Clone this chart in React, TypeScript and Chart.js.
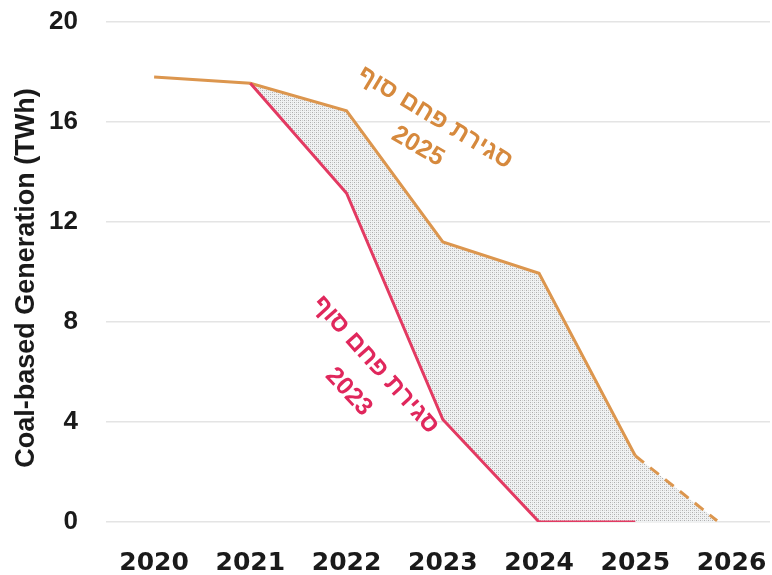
import React, { useEffect, useRef } from 'react';
import { Chart, registerables } from 'chart.js';

Chart.register(...registerables);

// ---- data ----
const years = [2020, 2021, 2022, 2023, 2024, 2025];
const closure2025 = [17.8, 17.55, 16.45, 11.2, 9.95, 2.65];
const closure2025ProjectedYear = 2025.85;
const closure2025ProjectedValue = 0.05;
const closure2023: (number | null)[] = [null, 17.55, 13.15, 4.1, 0, 0];
const xTickLabels = [2020, 2021, 2022, 2023, 2024, 2025, 2026];
const yTickValues = [0, 4, 8, 12, 16, 20];
const yAxisTitle = 'Coal-based Generation (TWh)';
const labelClosure = 'סגירת פחם סוף';
const labelYear2025 = '2025';
const labelYear2023 = '2023';

const ORANGE = '#DC964E';
const ORANGE_TEXT = '#D6893D';
const RED = '#E33A62';
const RED_TEXT = '#E0275C';

const annotations = [
  { text: labelClosure, x: 2022.92, y: 16.16, angle: 31, color: ORANGE_TEXT },
  { text: labelYear2025, x: 2022.74, y: 15.02, angle: 30, color: ORANGE_TEXT },
  { text: labelClosure, x: 2022.3, y: 6.28, angle: 48, color: RED_TEXT },
  { text: labelYear2023, x: 2022.02, y: 5.2, angle: 47, color: RED_TEXT },
];

const zeroPadding = (scale: any) => {
  scale.paddingTop = 0;
  scale.paddingBottom = 0;
  scale.paddingLeft = 0;
  scale.paddingRight = 0;
};

const annotationPlugin = {
  id: 'hebrewAnnotations',
  afterDatasetsDraw(chart: any) {
    const { ctx, scales } = chart;
    annotations.forEach((a) => {
      const px = scales.x.getPixelForValue(a.x);
      const py = scales.y.getPixelForValue(a.y);
      ctx.save();
      ctx.translate(px, py);
      ctx.rotate((a.angle * Math.PI) / 180);
      ctx.font = 'bold 25px "Liberation Sans", "DejaVu Sans", sans-serif';
      ctx.fillStyle = a.color;
      ctx.textAlign = 'center';
      ctx.textBaseline = 'middle';
      ctx.fillText(a.text, 0, 0);
      ctx.restore();
    });
    // y-axis title
    ctx.save();
    ctx.translate(27, (chart.chartArea.top + chart.chartArea.bottom) / 2 + 6);
    ctx.rotate(-Math.PI / 2);
    ctx.font = 'bold 27px "Liberation Sans", Arial, sans-serif';
    ctx.fillStyle = '#1a1a1a';
    ctx.textAlign = 'center';
    ctx.textBaseline = 'middle';
    ctx.fillText(yAxisTitle, 0, 0);
    ctx.restore();
  },
};

export default function App() {
  const canvasRef = useRef<HTMLCanvasElement | null>(null);

  useEffect(() => {
    document.body.style.margin = '0';
    const canvas = canvasRef.current;
    if (!canvas) return;
    const ctx = canvas.getContext('2d')!;

    const pc = document.createElement('canvas');
    pc.width = 4;
    pc.height = 4;
    const p = pc.getContext('2d')!;
    p.fillStyle = '#f0f2f3';
    p.fillRect(0, 0, 4, 4);
    p.fillStyle = '#aeaeae';
    p.fillRect(0, 0, 1, 1);
    p.fillRect(2, 2, 1, 1);
    p.fillStyle = '#d0d0d0';
    p.fillRect(2, 0, 1, 1);
    p.fillRect(0, 2, 1, 1);
    const pattern = ctx.createPattern(pc, 'repeat');

    const redData = years
      .map((x, i) => ({ x, y: closure2023[i] }))
      .filter((pt) => pt.y !== null);
    const orangeData = [
      ...years.map((x, i) => ({ x, y: closure2025[i] })),
      { x: closure2025ProjectedYear, y: closure2025ProjectedValue },
    ];
    const lowerData = [
      ...years.map((x, i) => ({ x, y: closure2023[i] ?? closure2025[i] })),
      { x: closure2025ProjectedYear, y: 0 },
    ];
    const lastSolid = years.length - 1;

    const chart = new Chart(ctx, {
      type: 'line',
      data: {
        datasets: [
          {
            label: 'closure 2023',
            data: redData,
            borderColor: RED,
            borderWidth: 3,
            pointRadius: 0,
            tension: 0,
            fill: false,
          },
          {
            label: 'closure 2025',
            data: orangeData,
            borderColor: ORANGE,
            borderWidth: 3,
            pointRadius: 0,
            tension: 0,
            fill: { target: 2 },
            backgroundColor: pattern as any,
            segment: {
              borderDash: (c: any) => (c.p0DataIndex >= lastSolid ? [11, 8] : undefined),
            },
          },
          {
            label: 'lower',
            data: lowerData,
            borderWidth: 0,
            borderColor: 'rgba(0,0,0,0)',
            pointRadius: 0,
            tension: 0,
            fill: false,
          },
        ],
      },
      options: {
        animation: false,
        responsive: true,
        maintainAspectRatio: false,
        layout: { padding: { top: 22, right: 2, left: 0, bottom: 0 } },
        plugins: {
          legend: { display: false },
          tooltip: { enabled: false },
        },
        scales: {
          x: {
            type: 'linear',
            min: 2019.5,
            max: 2026.4,
            grid: { display: false },
            border: { display: false },
            afterBuildTicks: (scale: any) => {
              scale.ticks = xTickLabels.map((v) => ({ value: v }));
            },
            afterFit: (scale: any) => {
              scale.height = 53;
              zeroPadding(scale);
            },
            ticks: {
              autoSkip: false,
              maxRotation: 0,
              padding: 18,
              color: '#1a1a1a',
              font: { family: '"DejaVu Sans", sans-serif', weight: 'bold', size: 25 },
              callback: (v: any) => String(v),
            },
          },
          y: {
            min: 0,
            max: 20,
            afterBuildTicks: (scale: any) => {
              scale.ticks = yTickValues.map((v) => ({ value: v }));
            },
            afterFit: (scale: any) => {
              scale.width = 106;
              zeroPadding(scale);
            },
            grid: { color: '#e4e4e4', lineWidth: 1.5, drawTicks: false },
            border: { display: false },
            ticks: {
              padding: 28,
              color: '#1a1a1a',
              font: { family: '"Liberation Sans", Arial, sans-serif', weight: 'bold', size: 26 },
              callback: (v: any) => String(v),
            },
          },
        },
      },
      plugins: [annotationPlugin],
    });

    return () => chart.destroy();
  }, []);

  return (
    <div style={{ width: 772, height: 575, position: 'relative' }}>
      <canvas ref={canvasRef} />
    </div>
  );
}
